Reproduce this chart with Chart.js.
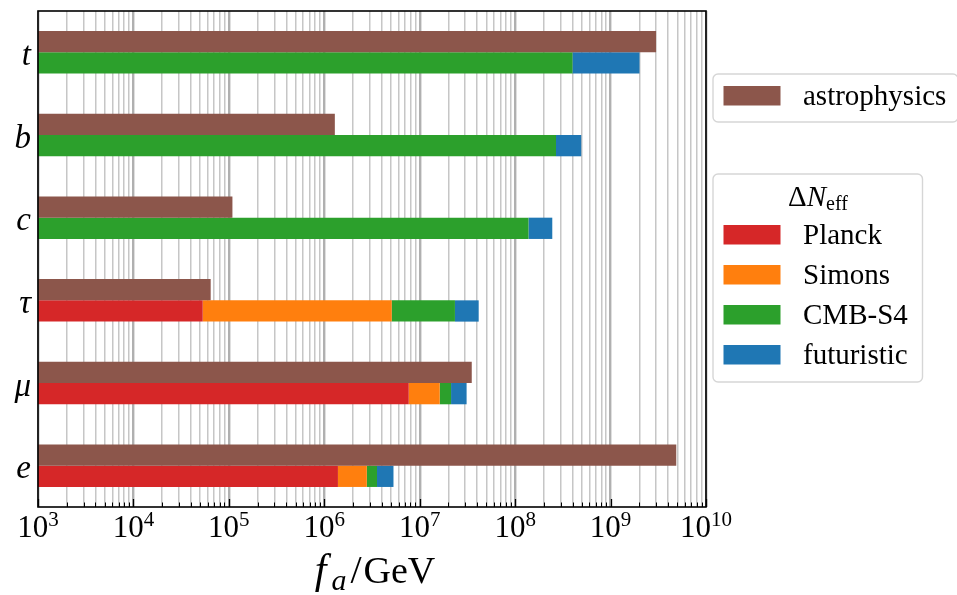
<!DOCTYPE html>
<html>
<head>
<meta charset="utf-8">
<script src="https://cdn.jsdelivr.net/npm/chart.js@4/dist/chart.umd.min.js"></script>
<style>
  html, body { margin: 0; padding: 0; background: #fff; }
  #wrap { width: 957px; height: 595px; position: relative; }
</style>
</head>
<body>
<div id="wrap"><canvas id="chart" width="957" height="595"></canvas></div>
<script>
// Fermion flavours (rows, top to bottom)
const categories = ['t', 'b', 'c', 'τ', 'μ', 'e'];

// Upper reach of each bound in f_a / GeV
const astrophysics = [3.0e9, 1.29e6, 1.09e5, 6.45e4, 3.51e7, 4.88e9];
const planck       = [null, null, null, 5.32e4, 7.67e6, 1.39e6];
const simons       = [null, null, null, 5.09e6, 1.62e7, 2.79e6];
const cmbS4        = [3.99e8, 2.68e8, 1.38e8, 2.34e7, 2.13e7, 3.57e6];
const futuristic   = [2.01e9, 4.93e8, 2.45e8, 4.15e7, 3.10e7, 5.31e6];

// Axis range and decade labels
const xMin = 1e3;
const xMax = 1e10;
const decadeExponents = [3, 4, 5, 6, 7, 8, 9, 10];

const SERIF = "'Liberation Serif', 'DejaVu Serif', serif";
const COLORS = {
  astrophysics: '#8c564b',
  planck: '#d62728',
  simons: '#ff7f0e',
  cmbS4: '#2ca02c',
  futuristic: '#1f77b4'
};

// Each ΔN_eff segment starts where the next-stronger experiment stops
function segments(ends, ...inner) {
  return ends.map((v, i) => {
    if (v == null) return null;
    let start = xMin;
    for (const s of inner) {
      if (s[i] != null) { start = s[i]; break; }
    }
    return [start, v];
  });
}

// Grid positions: every 1..9 × 10^n inside the range
const gridValues = [];
for (let e = 3; e < 10; e++) {
  for (let m = 1; m <= 9; m++) gridValues.push(m * Math.pow(10, e));
}
gridValues.push(1e10);
const isDecade = v => Math.abs(Math.log10(v) - Math.round(Math.log10(v))) < 1e-9;

function noPadding(s) {
  s.paddingTop = 0; s.paddingBottom = 0; s.paddingLeft = 0; s.paddingRight = 0;
}

const decor = {
  id: 'decor',
  afterDraw(chart) {
    const { ctx, chartArea: a, scales: { x } } = chart;
    ctx.save();

    // inward tick marks along the bottom spine
    ctx.strokeStyle = '#000';
    for (const t of x.ticks) {
      const px = Math.round(x.getPixelForValue(t.value)) + 0.5;
      ctx.lineWidth = t.major ? 1.3 : 1;
      ctx.beginPath();
      ctx.moveTo(px, a.bottom);
      ctx.lineTo(px, a.bottom - (t.major ? 8 : 4.5));
      ctx.stroke();
    }

    // axes frame
    ctx.lineWidth = 1.6;
    ctx.strokeRect(a.left, a.top, a.right - a.left, a.bottom - a.top);

    // decade labels 10^n
    ctx.fillStyle = '#000';
    ctx.textBaseline = 'alphabetic';
    ctx.textAlign = 'left';
    for (const e of decadeExponents) {
      const px = x.getPixelForValue(Math.pow(10, e));
      ctx.font = `31px ${SERIF}`;
      const wBase = ctx.measureText('10').width;
      ctx.font = `21px ${SERIF}`;
      const wExp = ctx.measureText(String(e)).width;
      const x0 = px - (wBase + wExp) / 2;
      ctx.font = `31px ${SERIF}`;
      ctx.fillText('10', x0, 537);
      ctx.font = `21px ${SERIF}`;
      ctx.fillText(String(e), x0 + wBase, 526);
    }

    // axis title f_a / GeV
    const parts = [
      { t: 'f', font: `italic 42px ${SERIF}`, dy: 0, gap: 5 },
      { t: 'a', font: `italic 30px ${SERIF}`, dy: 7, gap: 4 },
      { t: '/', font: `40px ${SERIF}`, dy: 0, gap: 2 },
      { t: 'GeV', font: `38px ${SERIF}`, dy: 0, gap: 0 }
    ];
    let total = 0;
    for (const p of parts) { ctx.font = p.font; p.w = ctx.measureText(p.t).width; total += p.w + p.gap; }
    let cx = (a.left + a.right) / 2 - total / 2 + 3;
    for (const p of parts) {
      ctx.font = p.font;
      ctx.fillText(p.t, cx, 583 + p.dy);
      cx += p.w + p.gap;
    }

    // legend boxes
    function box(x0, y0, w, h) {
      ctx.beginPath();
      ctx.roundRect(x0, y0, w, h, 5);
      ctx.fillStyle = 'rgba(255,255,255,0.85)';
      ctx.fill();
      ctx.lineWidth = 1.4;
      ctx.strokeStyle = '#d6d6d6';
      ctx.stroke();
    }
    function entry(color, label, swY, baseY) {
      ctx.fillStyle = color;
      ctx.fillRect(723.5, swY, 57, 19.5);
      ctx.fillStyle = '#000';
      ctx.font = `29px ${SERIF}`;
      ctx.fillText(label, 803, baseY);
    }

    box(713, 74, 245, 48);
    entry(COLORS.astrophysics, 'astrophysics', 86, 105);

    box(713, 174, 209.5, 208);
    // title ΔN_eff
    const tParts = [
      { t: 'Δ', font: `29px ${SERIF}`, dy: 0 },
      { t: 'N', font: `italic 29px ${SERIF}`, dy: 0 },
      { t: 'eff', font: `20px ${SERIF}`, dy: 4 }
    ];
    let tw = 0;
    for (const p of tParts) { ctx.font = p.font; p.w = ctx.measureText(p.t).width; tw += p.w; }
    let tx = 818 - tw / 2;
    ctx.fillStyle = '#000';
    for (const p of tParts) {
      ctx.font = p.font;
      ctx.fillText(p.t, tx, 206 + p.dy);
      tx += p.w;
    }
    entry(COLORS.planck, 'Planck', 225, 244);
    entry(COLORS.simons, 'Simons', 265, 284);
    entry(COLORS.cmbS4, 'CMB-S4', 305, 324);
    entry(COLORS.futuristic, 'futuristic', 345, 364);

    ctx.restore();
  }
};

new Chart(document.getElementById('chart'), {
  type: 'bar',
  data: {
    labels: categories,
    datasets: [
      { label: 'astrophysics', stack: 'astro', data: segments(astrophysics), backgroundColor: COLORS.astrophysics },
      { label: 'Planck', stack: 'neff', data: segments(planck), backgroundColor: COLORS.planck },
      { label: 'Simons', stack: 'neff', data: segments(simons, planck), backgroundColor: COLORS.simons },
      { label: 'CMB-S4', stack: 'neff', data: segments(cmbS4, simons, planck), backgroundColor: COLORS.cmbS4 },
      { label: 'futuristic', stack: 'neff', data: segments(futuristic, cmbS4, simons, planck), backgroundColor: COLORS.futuristic }
    ]
  },
  options: {
    indexAxis: 'y',
    responsive: false,
    animation: false,
    layout: { padding: { left: 0, right: 251, top: 11, bottom: 88 } },
    datasets: { bar: { categoryPercentage: 0.515, barPercentage: 1, borderWidth: 0 } },
    plugins: { legend: { display: false }, tooltip: { enabled: false } },
    scales: {
      x: {
        type: 'logarithmic',
        min: xMin,
        max: xMax,
        stacked: false,
        afterBuildTicks: s => { s.ticks = gridValues.map(v => ({ value: v, major: isDecade(v) })); },
        afterFit: s => { s.height = 0; noPadding(s); },
        ticks: { display: false },
        border: { display: false },
        grid: {
          drawTicks: false,
          color: c => (c.tick && c.tick.major) ? '#b0b0b0' : '#c6c6c6',
          lineWidth: c => (c.tick && c.tick.major) ? 2.4 : 1.5
        }
      },
      y: {
        type: 'category',
        stacked: true,
        afterFit: s => { s.width = 38; noPadding(s); },
        border: { display: false },
        grid: { display: false, drawTicks: false },
        ticks: { padding: 7, labelOffset: 4, color: '#000', font: { family: SERIF, size: 33, style: 'italic' } }
      }
    }
  },
  plugins: [decor]
});
</script>
</body>
</html>
